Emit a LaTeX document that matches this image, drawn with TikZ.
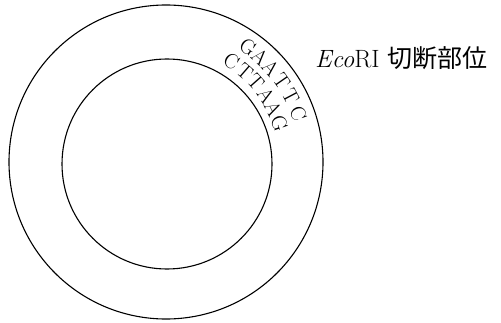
\documentclass[tikz,border=0pt]{standalone}
\usepackage{fontspec}
\usetikzlibrary{calc}
\newfontfamily\cjkfont{Noto Sans CJK JP}
\begin{document}
\begin{tikzpicture}[x=1pt,y=1pt,
  ring/.style={draw=black,line width=1.1pt},
  base/.style={font=\fontsize{21}{21}\selectfont,inner sep=0pt}]
\useasboundingbox (0,0) rectangle (501,322);
\coordinate (c) at (166,160);
\coordinate (ci) at (167,158);
\draw[ring] (c) circle[radius=157];
\draw[ring] (ci) circle[radius=105];
\foreach \l/\a [count=\i] in {G/54.5,A/48.2,A/42,T/34.8,T/27.8,C/20.2}{
  \node[base,rotate=\a-90] (o\i) at ($(c)+(\a:141)$) {\l};
}
\foreach \l/\a [count=\i] in {C/57,T/49,T/41.5,A/33.5,A/26.5,G/19}{
  \node[base,rotate=\a-90] (n\i) at ($(c)+(\a:120)$) {\l};
}
\node[anchor=base west,inner sep=0pt,font=\fontsize{25}{25}\selectfont] (lab) at (315,254) {\textit{Eco}RI {\cjkfont 切断部位}};
\end{tikzpicture}
\end{document}
